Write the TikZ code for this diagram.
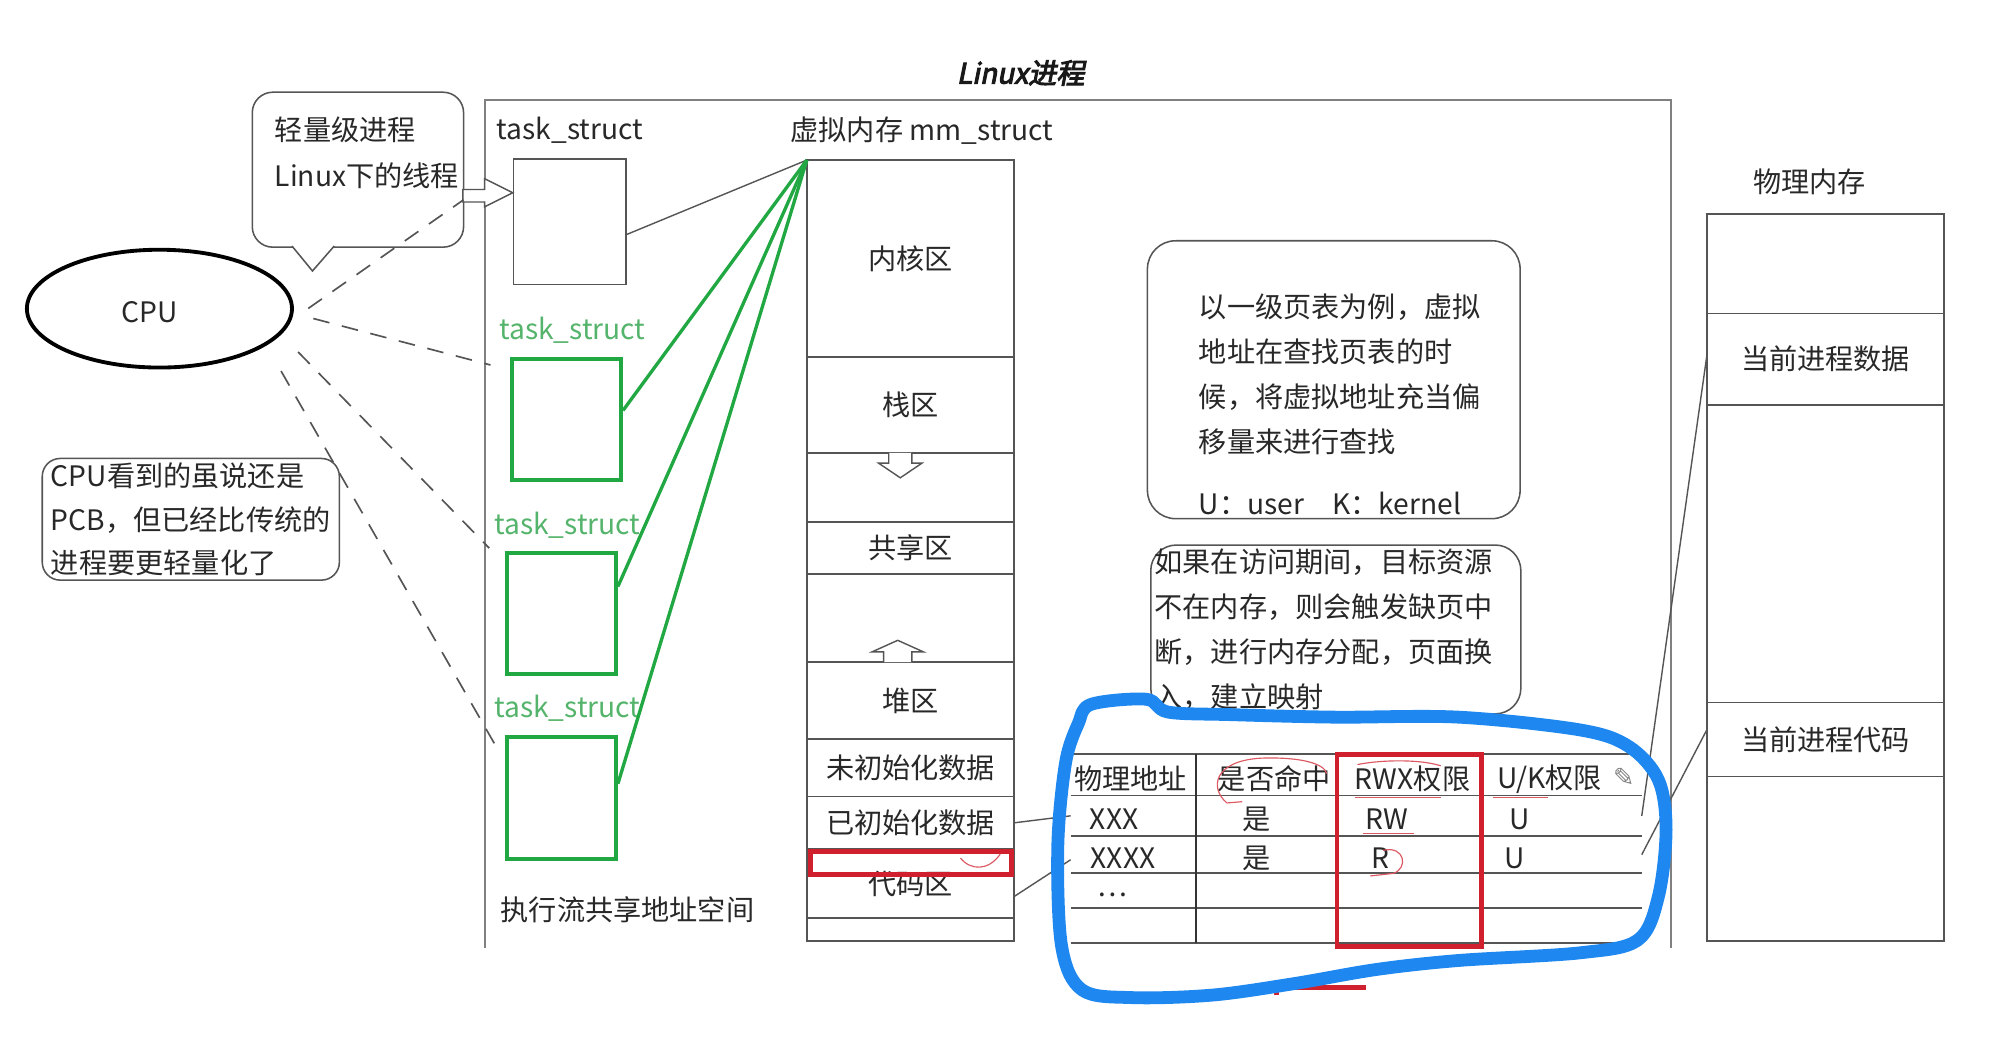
\documentclass[tikz,border=0pt]{standalone}
\usepackage{fontspec}
\setmainfont{Noto Sans CJK SC}
\newfontfamily\titlefont[FakeBold=3.5,FakeSlant=0.2]{Noto Sans CJK SC}
\newfontfamily\penfont{DejaVu Sans}
\usetikzlibrary{arrows.meta,calc,positioning,shapes.geometric}
\definecolor{ink}{HTML}{282828}
\definecolor{rulec}{HTML}{555555}
\definecolor{frameg}{HTML}{808080}
\definecolor{tgreen}{HTML}{22A843}
\definecolor{lgreen}{HTML}{55B46B}
\definecolor{penblue}{HTML}{1E88F0}
\definecolor{redpen}{HTML}{D0202E}
\tikzset{
  txt/.style     = {font=\fontsize{22}{26}\selectfont, text=ink, inner sep=1pt},
  gtxt/.style    = {txt, text=lgreen},
  cell/.style    = {txt, yshift=-3pt},
  tbox/.style    = {draw=rulec, line width=1.2pt, minimum width=88pt, minimum height=98pt},
  gbox/.style    = {draw=tgreen, line width=3pt, minimum width=85pt, minimum height=95pt},
  seg/.style     = {txt, draw=rulec, line width=1.3pt, minimum width=162pt,
                    inner sep=0pt, outer sep=0pt},
  pseg/.style    = {txt, draw=rulec, line width=1.3pt, minimum width=185pt,
                    inner sep=0pt, outer sep=0pt},
  row/.style     = {minimum width=446pt, inner sep=0pt, outer sep=0pt},
  note/.style    = {draw=rulec, line width=1.2pt, rounded corners=18pt},
  tline/.style   = {draw=rulec, line width=1.3pt},
  framel/.style  = {frameg, line width=1.4pt},
  link/.style    = {rulec, line width=1.1pt},
  glink/.style   = {tgreen, line width=2.6pt},
  cpulink/.style = {rulec, line width=1.3pt, dash pattern=on 13pt off 10pt},
  hollow/.style  = {draw=rulec, line width=1.1pt, fill=white},
  bluepen/.style = {penblue, line width=10pt, line cap=round, line join=round},
  redmark/.style = {redpen, line width=3.5pt},
  redthin/.style = {redpen!75, line width=0.9pt},
}

\begin{document}
\begin{tikzpicture}[x=1pt,y=-1pt]
 \useasboundingbox (0,0) rectangle (1568,815);
 \fill[white] (0,0) rectangle (1568,815);
 % process frame
 \node[txt, font=\titlefont\fontsize{22}{26}\selectfont, text=black!90] (title) at (797,57) {Linux进程};
 \draw[framel] (379,740) -- (379,78) -- (1305,78) -- (1305,740);
 % cpu and notes
 \node[txt, draw=black, line width=3pt, ellipse, minimum width=207pt, minimum height=92pt] (cpu) at (124.5,241) {};
 \node[txt] (cpulbl) at (117,244) {CPU};
 \node[note, rounded corners=16pt, minimum width=165pt, minimum height=121pt] (lwp) at (279.5,132.5) {};
 \draw[rulec, line width=1.2pt, fill=white] ($(lwp.south)+(-51.5,-1.5)$) -- ($(lwp.south)+(-35.5,18)$) -- ($(lwp.south)+(-18.5,-1.5)$);
 \node[txt, align=left, font=\fontsize{22}{36}\selectfont] (lwptxt) at (286.5,119) {轻量级进程\\Linux下的线程};
 \node[txt, note, rounded corners=14pt, align=left, font=\fontsize{22}{34}\selectfont,
       minimum width=232pt, minimum height=95pt, inner sep=2pt] (lite) at (149,405.5)
       {CPU看到的虽说还是\\PCB，但已经比传统的\\进程要更轻量化了};
 % task_struct boxes
 \node[tbox] (box1) at (445,173) {};
 \node[txt] (ts1) at (445,102) {task\_struct};
 \node[gbox] (box2) at (442.5,327.5) {};
 \node[gtxt] (ts2) at (447,258) {task\_struct};
 \node[gbox] (box3) at (438.5,479) {};
 \node[gtxt] (ts3) at (443,410) {task\_struct};
 \node[gbox] (box4) at (438.5,623) {};
 \node[gtxt] (ts4) at (443,553) {task\_struct};
 \node[txt] (flow) at (490,710) {执行流共享地址空间};
 \draw[hollow] ($(box1.west)+(0,-22.5)$) -- ++(-22,-11) -- ++(0,8.5) -- ++(-17,0)
     -- ++(0,9.7) -- ++(17,0) -- ++(0,3.8) -- cycle;
 % virtual memory
 \node[txt] (mmlbl) at (720,102) {虚拟内存 mm\_struct};
 \node[seg, anchor=north west, minimum height=154pt] (kern) at (630,125) {内核区};
 \node[seg, minimum height=74.6pt, below=0pt of kern] (stack) {栈区};
 \node[seg, minimum height=54pt, below=0pt of stack] (gapd) {};
 \node[seg, minimum height=40.4pt, below=0pt of gapd] (shm) {共享区};
 \node[seg, minimum height=69pt, below=0pt of shm] (gapu) {};
 \node[seg, minimum height=60pt, below=0pt of gapu] (heap) {堆区};
 \node[seg, minimum height=45pt, below=0pt of heap] (bss) {未初始化数据};
 \node[seg, minimum height=41pt, below=0pt of bss] (init) {已初始化数据};
 \node[seg, minimum height=54pt, below=0pt of init] (code) {代码区};
 \node[seg, minimum height=18pt, below=0pt of code] (tail) {};
 \draw[hollow] ($(gapd.north)+(-17,0)$) -- ++(0,8) -- ++(-8,0) -- ++(17,11.5)
     -- ++(17,-11.5) -- ++(-8,0) -- ++(0,-8);
 \draw[hollow] ($(heap.north)+(-21,0)$) -- ++(0,-8) -- ++(-9,0) -- ++(20,-9)
     -- ++(20,9) -- ++(-9,0) -- ++(0,8);
 \draw[redmark] ($(code.north west)+(3,2)$) rectangle ($(code.north east)+(-2,20)$);
 \draw[redthin] (750,670) .. controls (758,680) and (772,680) .. (781,667);
 % links to mm_struct
 \draw[link] ([yshift=-10pt]box1.east) -- (kern.north west);
 \foreach \b/\s in {box2/7,box3/21,box4/11}
   \draw[glink] ([yshift=\s pt]\b.east) -- (kern.north west);
 % cpu dashed links
 \coordinate (e1) at (362,156);
 \coordinate (e2) at (383,285);
 \coordinate (e3) at (382,428);
 \coordinate (e4) at (388,584);
 \draw[cpulink, shorten <=16pt] (cpu.-5) -- (e1);
 \draw[cpulink, shorten <=16pt] (cpu.-2) -- (e2);
 \draw[cpulink, shorten <=19pt] (cpu.-12) -- (e3);
 \draw[cpulink, shorten <=23pt] (cpu.-19) -- (e4);
 % notes on page table
 \node[note, rounded corners=22pt, minimum width=291pt, minimum height=217pt] (ptnote) at (1041.5,296.5) {};
 \node[txt, align=left, anchor=west, font=\fontsize{22}{35}\selectfont] (pttxt) at (935,316)
   {以一级页表为例，虚拟\\地址在查找页表的时\\候，将虚拟地址充当偏\\移量来进行查找\\[14pt]U：user\quad K：kernel};
 \node[txt, note, rounded corners=20pt, align=left, anchor=north west, inner sep=3pt,
       text width=283pt, font=\fontsize{22}{35}\selectfont] (fault) at (898,425)
   {如果在访问期间，目标资源\\不在内存，则会触发缺页中\\断，进行内存分配，页面换\\入，建立映射};
 % page table
 \node[row, minimum height=32.3pt, anchor=north west] (hdr) at (836,589) {};
 \node[row, minimum height=31.5pt, below=0pt of hdr] (r1) {};
 \node[row, minimum height=29.1pt, below=0pt of r1] (r2) {};
 \node[row, minimum height=27.1pt, below=0pt of r2] (r3) {};
 \node[row, minimum height=27.6pt, below=0pt of r3] (r4) {};
 \draw[tline] (hdr.north west) -- (hdr.north east);
 \foreach \r in {hdr,r1,r2,r3,r4}
   \draw[tline] (\r.south west) -- (\r.south east);
 \draw[tline, draw=black!80] ($(hdr.north west)+(98,0)$) -- ($(r4.south west)+(98,0)$);
 \node[cell] (h1) at (883,0 |- hdr) {物理地址};
 \node[cell] (h2) at (995,0 |- hdr) {是否命中};
 \node[cell] (h3) at (1103,0 |- hdr) {RWX权限};
 \node[cell] (h4) at (1210,0 |- hdr) {U/K权限};
 \node[font=\penfont\fontsize{20}{20}\selectfont, text=gray, yshift=-2pt] (pencil) at (1268,0 |- hdr) {✎};
 \node[cell] (a1) at (870,0 |- r1) {XXX};
 \node[cell] (b1) at (981,0 |- r1) {是};
 \node[cell] (c1) at (1083,0 |- r1) {RW};
 \node[cell] (d1) at (1187,0 |- r1) {U};
 \node[cell] (a2) at (877,0 |- r2) {XXXX};
 \node[cell] (b2) at (981,0 |- r2) {是};
 \node[cell] (c2) at (1078,0 |- r2) {R};
 \node[cell] (d2) at (1183,0 |- r2) {U};
 \node[cell] (a3) at (869,0 |- r3) {…};
 \draw[link] (init.east) -- (r1.west);
 \draw[link] ([yshift=-10pt]code.east) -- ([yshift=-4pt]r2.west);
 % physical memory
 \node[txt] (phys) at (1413,142) {物理内存};
 \node[pseg, anchor=north west, minimum height=77.7pt] (ptop) at (1333,167) {};
 \node[pseg, minimum height=71.4pt, below=0pt of ptop] (pdata) {当前进程数据};
 \node[pseg, minimum height=232.5pt, below=0pt of pdata] (pmid) {};
 \node[pseg, minimum height=57.8pt, below=0pt of pmid] (pcode) {当前进程代码};
 \node[pseg, minimum height=128.6pt, below=0pt of pcode] (pbot) {};
 \draw[link] (r1.east) -- ([yshift=4pt]pdata.west);
 \draw[link] (r2.east) -- ([yshift=8pt]pcode.west);
 % hand marks
 \draw[redmark] ($(hdr.north west)+(208,0)$) rectangle ($(r4.south west)+(321,2.5)$);
 \draw[redthin] (958,627) .. controls (944,615) and (948,594) .. (985,592)
     .. controls (1015,591) and (1034,596) .. (1036,604);
 \draw[redthin] (958,627) -- (970,626);
 \draw[redthin] (1058,623) -- (1125,623);
 \draw[redthin] (1060,597) .. controls (1080,593) and (1110,593) .. (1125,598);
 \draw[redthin] (1166,623) -- (1209,623);
 \draw[redthin] (1064,651) -- (1104,651);
 \draw[redthin] (1080,664) .. controls (1097,660) and (1100,678) .. (1088,682) -- (1070,684);
 \draw[redmark, line width=4pt] (997,777) -- (997,771) -- (1067,771);
 \draw[bluepen] plot[smooth cycle, tension=0.55] coordinates {(852,550) (895,546) (912,556)
   (960,558) (1043,560) (1139,560) (1234,570) (1272,583) (1295,609) (1301,648) (1295,700)
   (1279,734) (1234,744) (1139,750) (1075,757) (1011,768) (947,777) (884,779) (845,773)
   (829,739) (826,661) (832,596) (842,565)};
\end{tikzpicture}
\end{document}
